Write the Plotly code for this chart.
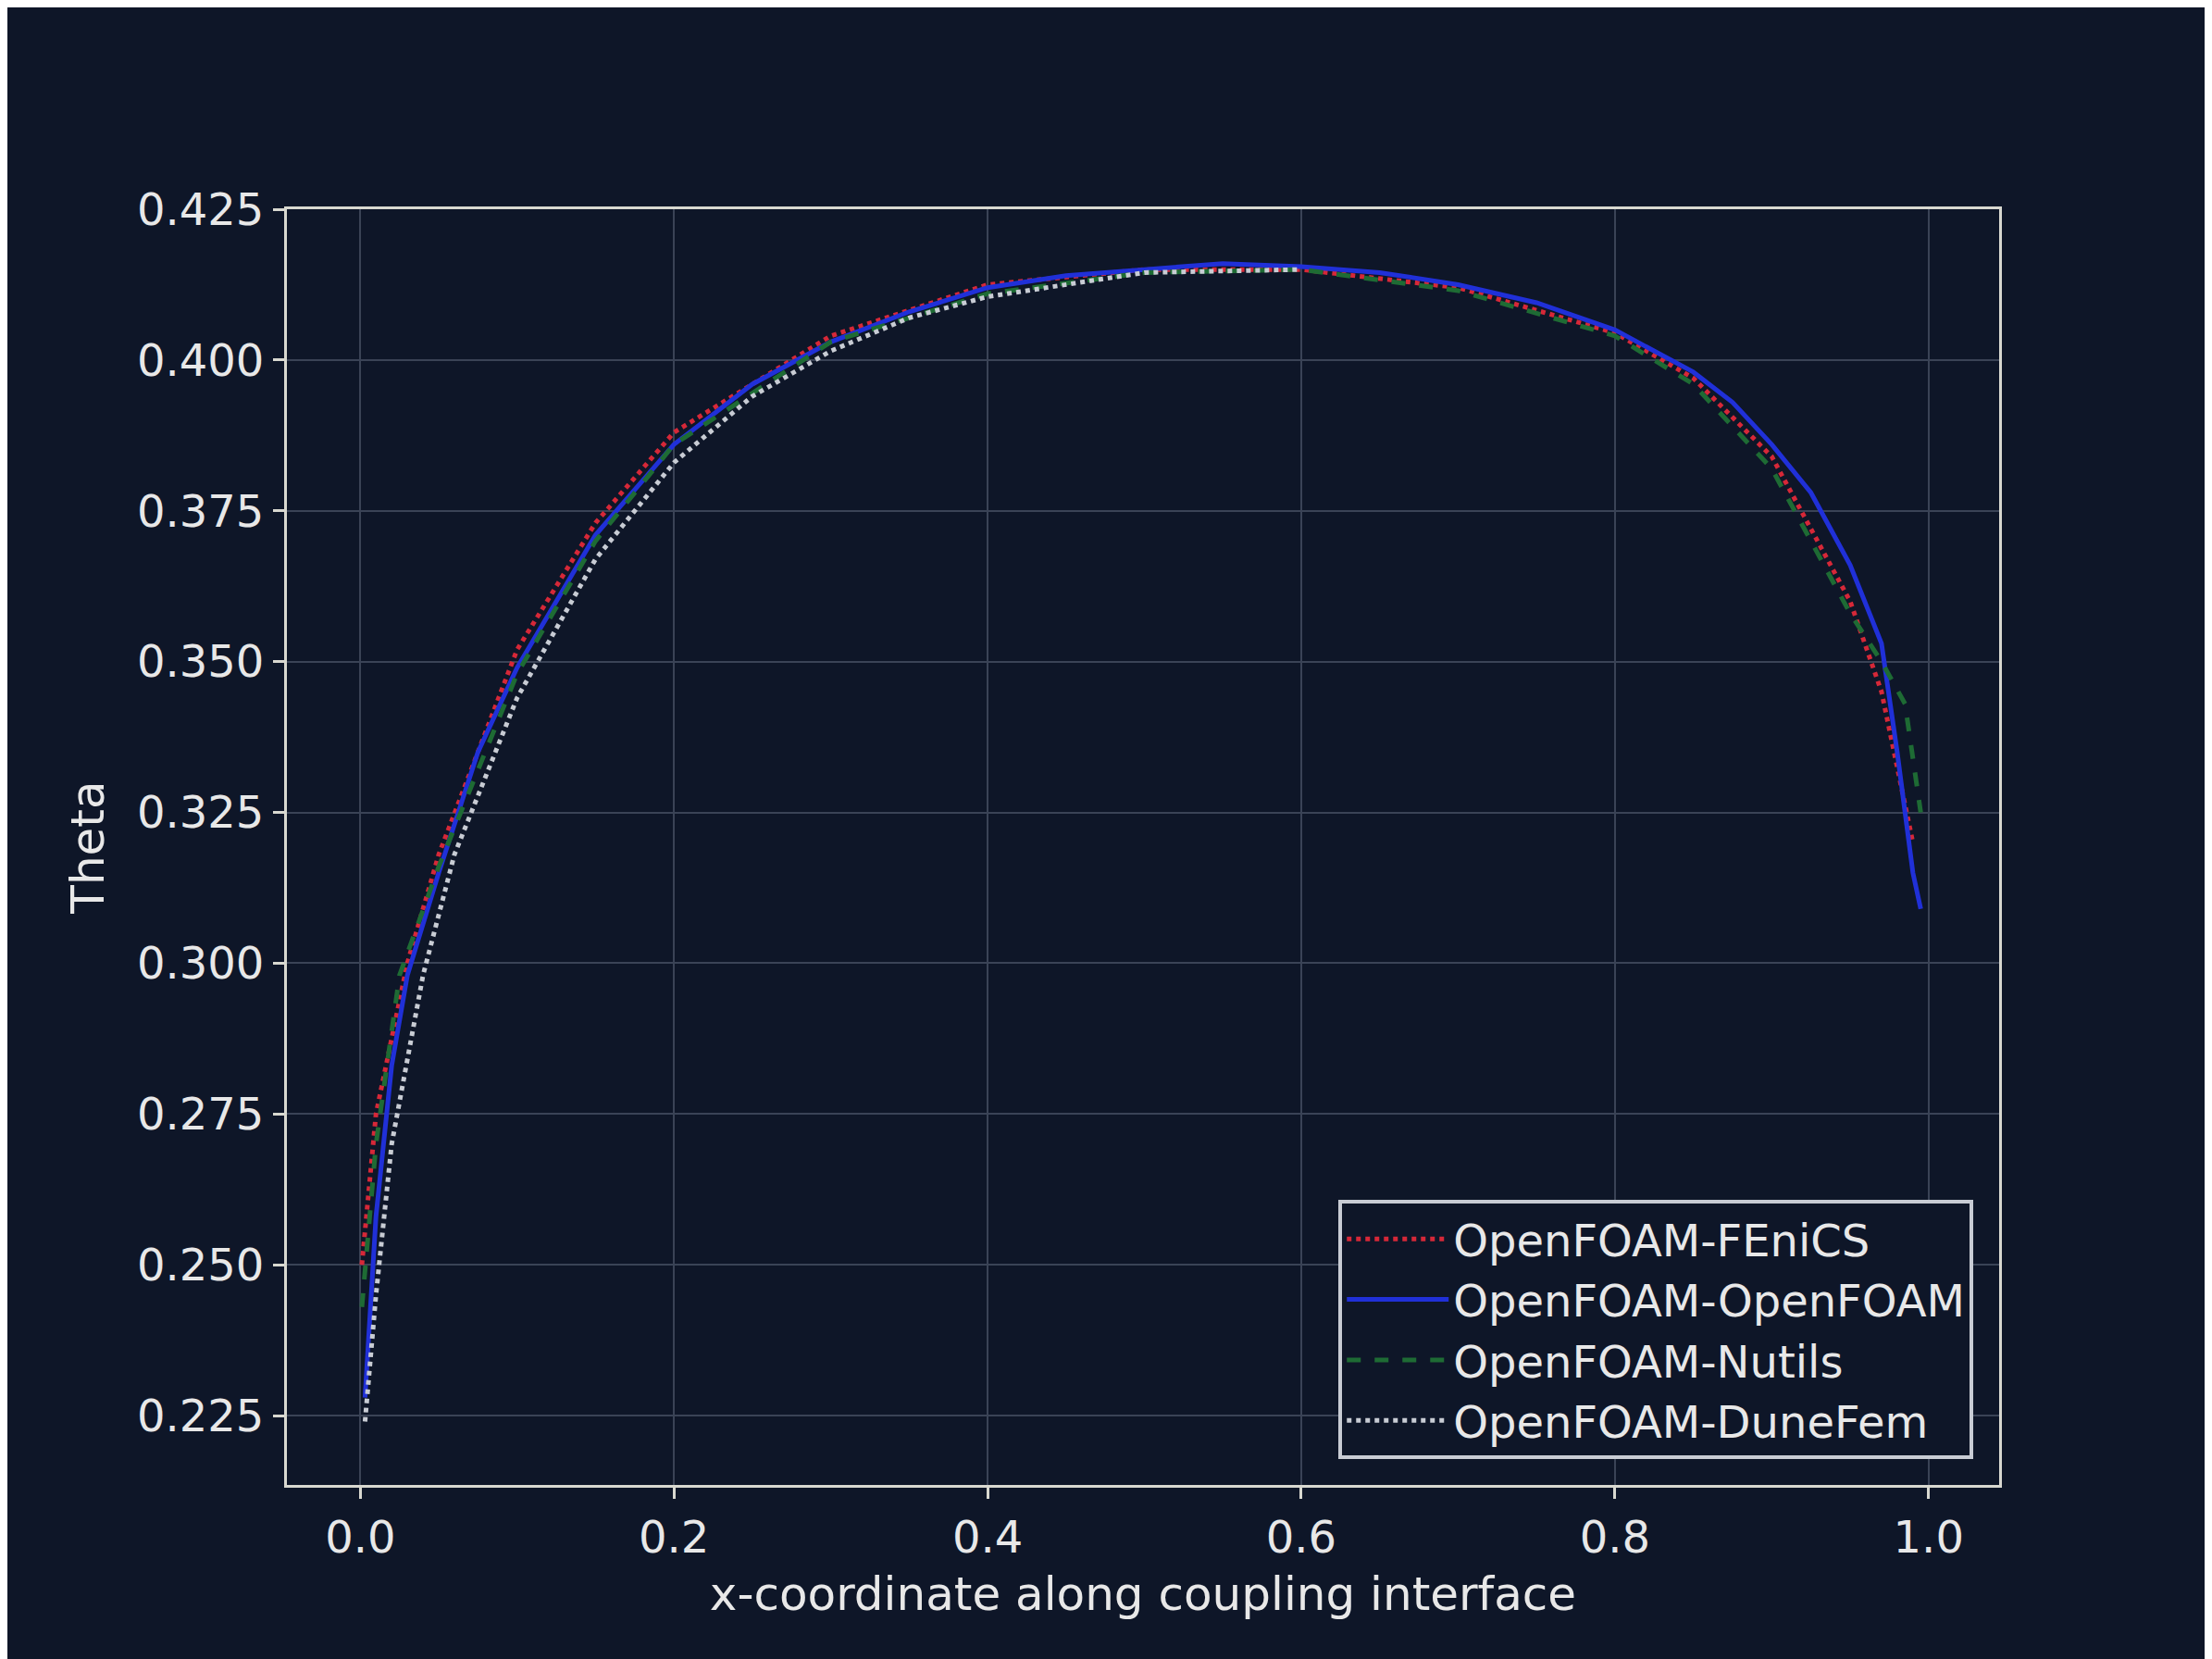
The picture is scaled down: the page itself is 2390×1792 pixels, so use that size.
import plotly.graph_objects as go

fen_x = [0.001,0.01,0.03,0.05,0.1,0.15,0.2,0.3,0.4,0.5,0.6,0.7,0.8,0.85,0.9,0.95,0.97,0.99]
fen_y = [0.25,0.275,0.30,0.318,0.352,0.373,0.388,0.404,0.4125,0.415,0.415,0.412,0.4045,0.397,0.384,0.36,0.345,0.32]
of_x = [0.003,0.01,0.02,0.03,0.05,0.075,0.1,0.15,0.2,0.25,0.3,0.35,0.4,0.45,0.5,0.55,0.6,0.65,0.7,0.75,0.8,0.85,0.875,0.9,0.925,0.95,0.97,0.98,0.99,0.995]
of_y = [0.228,0.258,0.283,0.298,0.315,0.335,0.349,0.371,0.386,0.396,0.403,0.408,0.412,0.414,0.415,0.416,0.4155,0.4145,0.4125,0.4095,0.405,0.398,0.393,0.386,0.378,0.366,0.353,0.335,0.315,0.309]
nu_x = [0.001,0.01,0.025,0.05,0.1,0.15,0.2,0.3,0.4,0.5,0.6,0.7,0.8,0.85,0.9,0.95,0.97,0.985,0.995]
nu_y = [0.243,0.27,0.298,0.316,0.348,0.370,0.386,0.403,0.411,0.4145,0.415,0.4115,0.404,0.396,0.382,0.358,0.35,0.343,0.325]
du_x = [0.003,0.01,0.02,0.04,0.06,0.1,0.15,0.2,0.25,0.3,0.35,0.4,0.5,0.6]
du_y = [0.224,0.245,0.27,0.298,0.318,0.344,0.367,0.383,0.394,0.4015,0.407,0.4105,0.4145,0.415]

fig = go.Figure()
fig.add_trace(go.Scatter(x=fen_x, y=fen_y, mode="lines", name="OpenFOAM-FEniCS",
                         line=dict(color="#d62838", width=5, dash="dot")))
fig.add_trace(go.Scatter(x=of_x, y=of_y, mode="lines", name="OpenFOAM-OpenFOAM",
                         line=dict(color="#2030d8", width=5)))
fig.add_trace(go.Scatter(x=nu_x, y=nu_y, mode="lines", name="OpenFOAM-Nutils",
                         line=dict(color="#1e6b34", width=5, dash="dash")))
fig.add_trace(go.Scatter(x=du_x, y=du_y, mode="lines", name="OpenFOAM-DuneFem",
                         line=dict(color="#c8ccd4", width=5, dash="dot")))

ax = dict(showgrid=True, gridcolor="#3a4356", gridwidth=2, zeroline=False,
          showline=True, linecolor="#d8d8d0", linewidth=3, mirror=True,
          ticks="outside", ticklen=12, tickwidth=3, tickcolor="#d8d8d0",
          tickfont=dict(size=48, color="#e8e8e8"))
fig.update_layout(
    width=2390, height=1792, paper_bgcolor="#0e1628", plot_bgcolor="#0e1628",
    font=dict(family="DejaVu Sans", color="#e8e8e8"),
    margin=dict(l=302, r=238, t=218, b=196),
    xaxis=dict(ax, range=[-0.0468, 1.045], tickvals=[0,0.2,0.4,0.6,0.8,1.0],
               ticktext=["0.0","0.2","0.4","0.6","0.8","1.0"],
               title=dict(text="x-coordinate along coupling interface", font=dict(size=50), standoff=18)),
    yaxis=dict(ax, range=[0.2135, 0.425], dtick=0.025, tickformat=".3f",
               title=dict(text="Theta", font=dict(size=50), standoff=20)),
    legend=dict(x=0.985, y=0.02, xanchor="right", yanchor="bottom",
                bgcolor="#0e1628", bordercolor="#c8ccd4", borderwidth=4,
                font=dict(size=48, color="#e8e8e8"), itemwidth=110),
)
fig.write_html("out.html")
